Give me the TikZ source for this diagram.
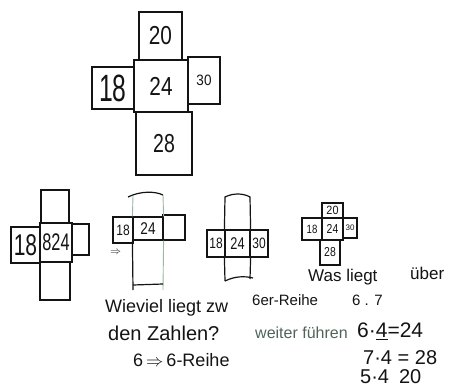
\documentclass[tikz,border=0pt]{standalone}
\usepackage{fontspec}
\setmainfont{Liberation Sans}
\definecolor{faintgreen}{RGB}{150,185,160}
\definecolor{penink}{RGB}{20,20,20}
\definecolor{grayink}{RGB}{80,100,90}
\newcommand\hw[2]{\scalebox{#1}[1]{#2}}
\newcommand\fs[1]{\fontsize{#1}{#1}\selectfont}
\begin{document}
\begin{tikzpicture}[x=1pt,y=-1pt,
  cell/.style={draw=penink, line width=1.6pt, inner sep=0pt, anchor=center, text=penink},
  smallcell/.style={draw=penink, line width=1.2pt, inner sep=0pt, anchor=center, text=penink},
  txt/.style={anchor=west, inner sep=0pt, text=penink},
  faint/.style={draw=faintgreen, line width=0.9pt},
  strip/.style={draw=penink, line width=1.2pt}]
\useasboundingbox[fill=white] (0,0) rectangle (449,388);

% ---- top cross ----
\node[cell, minimum width=43pt, minimum height=48pt, font=\fs{26}] (t20) at (160.5,36) {\hw{0.8}{20}};
\node[cell, minimum width=54pt, minimum height=52pt, font=\fs{26}] (t24) at (161,86) {\hw{0.8}{24}};
\node[cell, minimum width=42pt, minimum height=42pt, font=\fs{38}] (t18) at (113,88) {\hw{0.65}{18}};
\node[cell, minimum width=32pt, minimum height=47pt, font=\fs{15}] (t30) at (204,80.5) {\hw{0.9}{30}};
\node[cell, minimum width=56pt, minimum height=63pt, font=\fs{26}] (t28) at (164,143.5) {\hw{0.75}{28}};

% ---- cross 1 ----
\node[smallcell, minimum width=28pt, minimum height=33pt] (at) at (55,206.5) {};
\node[smallcell, minimum width=29pt, minimum height=36pt, font=\fs{30}] (al) at (25.5,245) {\hw{0.7}{18}};
\node[smallcell, minimum width=32pt, minimum height=39pt, font=\fs{24}] (am) at (56,242.5) {\hw{0.68}{824}};
\node[smallcell, minimum width=17pt, minimum height=31pt] (ar) at (80.5,239.5) {};
\node[smallcell, minimum width=30pt, minimum height=38pt] (ab) at (55,281) {};

% ---- cross 2 ----
\node[smallcell, minimum width=20pt, minimum height=26pt, font=\fs{15}] (bl) at (123,230) {\hw{0.8}{18}};
\node[smallcell, minimum width=30pt, minimum height=23pt, font=\fs{17}] (bm) at (148,228.5) {\hw{0.8}{24}};
\node[smallcell, minimum width=22pt, minimum height=25pt] (br) at (174,227.5) {};
\coordinate (btl) at (133,196);
\coordinate (btr) at (163,195);
\coordinate (btl0) at (128,197);
\coordinate (bbl) at (133,290);
\coordinate (bbr) at (163,290);
\coordinate (bbot1) at (133,285);
\coordinate (bbot2) at (163,284);
\draw[faint] (bm.north west) -- (btl);
\draw[faint] (bm.north east) -- (btr);
\draw[faint] (bm.south east) -- (bbr);
\draw[strip] (btl0) .. controls (140,191) and (155,191) .. (btr);
\draw[strip] (bm.south west) -- (bbl);
\draw[strip] (bbot1) -- (bbot2);
\node[txt, font=\fs{11}] (arrowb) at (110,252) {$\Rightarrow$};

% ---- cross 3 ----
\node[smallcell, minimum width=18pt, minimum height=27pt, font=\fs{15}] (cl) at (216,243.5) {\hw{0.8}{18}};
\node[smallcell, minimum width=25pt, minimum height=27pt, font=\fs{17}] (cm) at (237.5,243.5) {\hw{0.75}{24}};
\node[smallcell, minimum width=18pt, minimum height=27pt, font=\fs{15}] (cr) at (259,243.5) {\hw{0.8}{30}};
\coordinate (ctl) at (225,197);
\coordinate (ctr) at (250,197);
\coordinate (cbl) at (225,281);
\coordinate (cbr) at (250,279);
\coordinate (cbe) at (253,278);
\draw[strip] (cm.north west) -- (ctl) .. controls (233,193) and (243,193) .. (ctr) -- (cm.north east);
\draw[strip] (cm.south west) -- (cbl);
\draw[strip] (cm.south east) -- (cbr);
\draw[strip] (cbl) .. controls (235,276) and (245,276) .. (cbe);

% ---- cross 4 ----
\node[smallcell, minimum width=21pt, minimum height=15pt, font=\fs{12}] (dt) at (332.5,210.5) {\hw{0.9}{20}};
\node[smallcell, minimum width=20pt, minimum height=22pt, font=\fs{12}] (dl) at (312,229) {\hw{0.8}{18}};
\node[smallcell, minimum width=21pt, minimum height=22pt, font=\fs{13}] (dm) at (332.5,229) {\hw{0.8}{24}};
\node[smallcell, minimum width=14pt, minimum height=20pt, font=\fs{8}] (dr) at (350,228) {30};
\node[smallcell, minimum width=20pt, minimum height=25pt, font=\fs{13}] (db) at (330,252.5) {\hw{0.8}{28}};

% ---- text ----
\node[txt, font=\fs{17}] (was) at (308,277) {Was liegt};
\node[txt, font=\fs{17}] (ueber) at (410,273) {über};
\node[txt, font=\fs{18}] (wieviel) at (105,308) {Wieviel liegt zw};
\node[txt, font=\fs{15}] (reihe) at (252,300) {6er-Reihe};
\node[txt, font=\fs{15}] (sixseven) at (352,300) {6 . 7};
\node[txt, font=\fs{20}] (zahlen) at (108,333) {den Zahlen?};
\node[txt, font=\fs{16}, text=grayink] (weiter) at (255,333) {weiter führen};
\node[txt, font=\fs{21}] (eq1) at (357,331) {6·\underline{4}=24};
\node[txt, font=\fs{18}] (sixreihe) at (133,360) {6\,$\Rightarrow$\,6-Reihe};
\node[txt, font=\fs{20}] (eq2) at (363,358) {7·4 = 28};
\node[txt, font=\fs{20}] (eq3) at (360,377) {5·4\enspace 20};
\end{tikzpicture}
\end{document}
